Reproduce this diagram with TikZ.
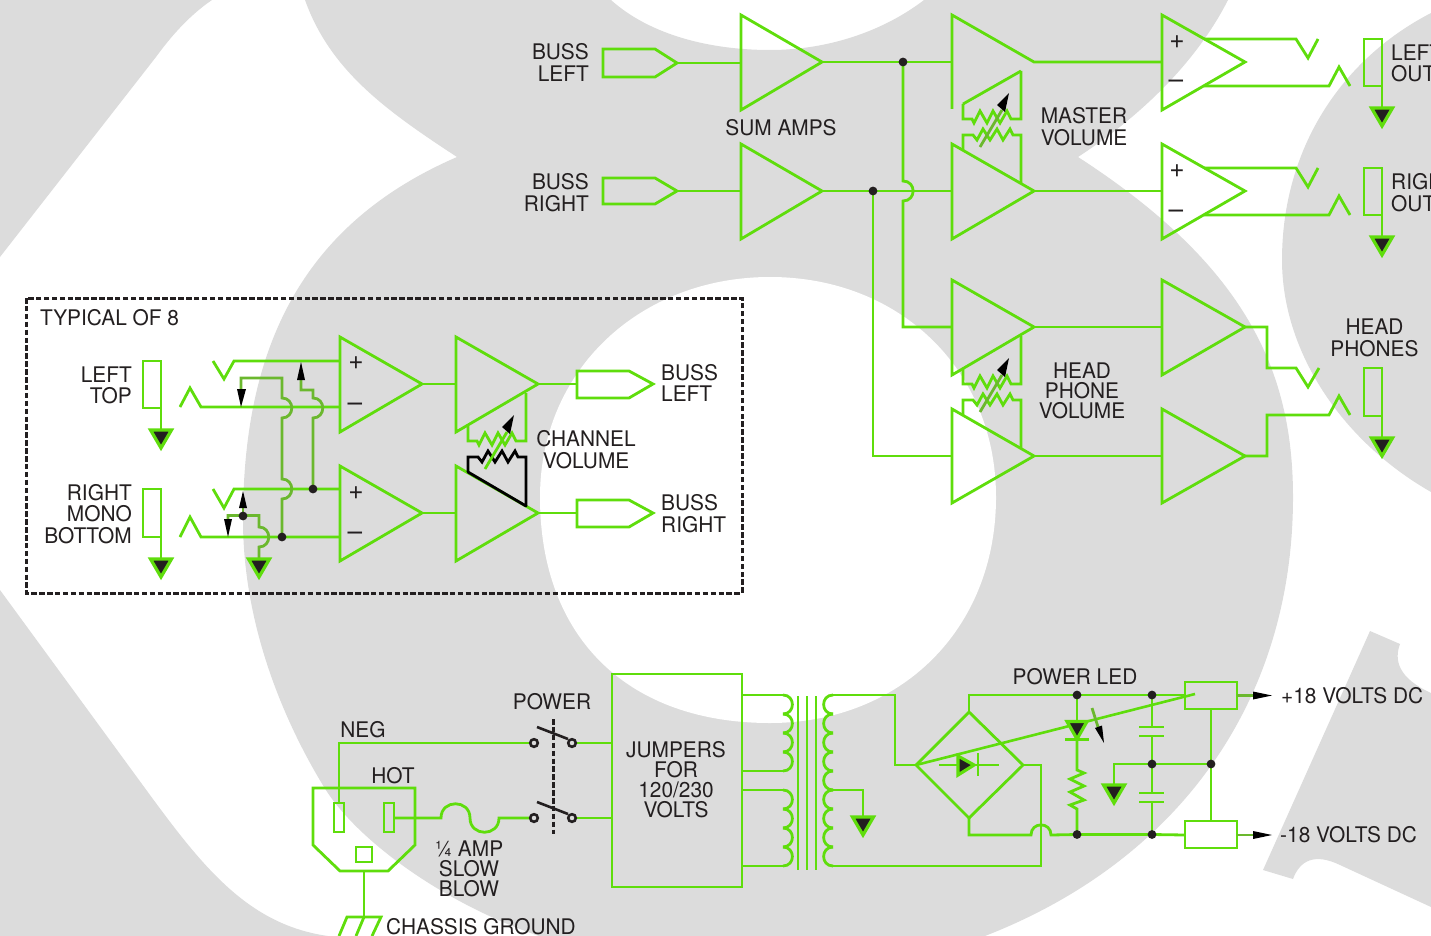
\documentclass[tikz,border=0pt]{standalone}
\usepackage{fontspec}
\setmainfont[FakeStretch=0.97]{TeX Gyre Heros}
\definecolor{bggray}{HTML}{DCDCDC}
\definecolor{gwire}{HTML}{5FDD0C}
\definecolor{owire}{HTML}{6BB82E}
\definecolor{ink}{HTML}{231F20}
\newcommand\lblfont{\fontsize{21.5}{21.7}\selectfont}
\newcommand\lbltight{\fontsize{21.5}{20}\selectfont}
\newcommand\signfont{\fontsize{27}{27}\selectfont}
\tikzset{
  wire/.style={draw=gwire,line width=2.8pt,line join=miter,fill=none},
  olive/.style={draw=owire,line width=2.8pt},
  blackwire/.style={draw=black,line width=2.8pt},
  lbl/.style={font=\lblfont,text=ink,align=center,inner sep=0pt},
  lbltop/.style={font=\lbltight,text=ink,align=center,inner sep=0pt},
  signmark/.style={font=\signfont,text=ink,inner sep=0pt},
  gndtri/.style={draw=gwire,fill=ink,line width=3.2pt,line join=miter},
  dotmark/.style={fill=ink,draw=none},
  headfill/.style={fill=black,draw=none},
  dashline/.style={draw=ink,line width=3pt,dash pattern=on 5.5pt off 2.4pt},
  bg/.style={fill=bggray,draw=none}
}
\newcommand\gnd[2]{\draw[gndtri] (#1-10.5,#2+1) -- (#1+10.5,#2+1) -- (#1,#2+19) -- cycle;}
\newcommand\jdot[1]{\fill[dotmark] (#1) circle[radius=4.4pt];}
\newcommand\zigupper{(963,104) -- (963,119) -- (972,119) -- (974,123) -- (980,111) -- (987,123) -- (993,111) -- (1000,123) -- (1007,111) -- (1011,119) -- (1021,119) -- (1021,71)}
\newcommand\ziglower{(963,150) -- (963,135) -- (973,135) -- (977,140) -- (983,129) -- (990,140) -- (997,129) -- (1003,140) -- (1010,129) -- (1013,135) -- (1021,135) -- (1021,184)}
\newcommand\potarrow[1]{\draw[#1] (980,147) -- (1002,110);\fill[headfill] (997,105) -- (1005,112) -- (1009,93) -- cycle;}
\begin{document}
\begin{tikzpicture}[x=1pt,y=-1pt]
\useasboundingbox (0,0) rectangle (1431,936);
\clip (0,0) rectangle (1431,936);
% ---------- background letter shapes
\fill[bg] (0,0) -- (212,0) .. controls (190,15) and (172,35) .. (156,57) -- (0,257) -- cycle;
\fill[bg] (0,590) -- (150,795) .. controls (205,870) and (250,925) .. (328,936) -- (0,936) -- cycle;
\fill[bg] (305,0) .. controls (330,70) and (385,110) .. (457,157)
  .. controls (300,225) and (243,350) .. (243,520)
  .. controls (243,620) and (280,715) .. (324,787)
  .. controls (355,838) and (440,902) .. (539,936)
  -- (985,936)
  .. controls (1180,860) and (1293,700) .. (1293,497)
  .. controls (1293,370) and (1245,265) .. (1078,157)
  .. controls (1150,110) and (1200,55) .. (1228,0)
  -- (924,0)
  .. controls (885,30) and (830,50) .. (770,50)
  .. controls (710,50) and (650,35) .. (611,0)
  -- cycle;
\fill[white] (770,277) .. controls (640,277) and (540,370) .. (540,497)
  .. controls (540,640) and (630,723) .. (770,723)
  .. controls (900,723) and (996,630) .. (996,497)
  .. controls (996,370) and (900,277) .. (770,277) -- cycle;
\fill[bg] (1431,13) .. controls (1340,60) and (1282,150) .. (1282,260) .. controls (1282,350) and (1340,440) .. (1431,492) -- cycle;
\fill[bg] (1370,631) -- (1400,644) .. controls (1394,660) and (1398,678) .. (1431,693) -- (1431,907) -- (1340,865) .. controls (1315,853) and (1300,860) .. (1293,879) -- (1263,870) -- cycle;
% ---------- junction coordinates
\coordinate (jsumL) at (903,62);
\coordinate (jsumR) at (873,191);
\coordinate (jcL) at (282,537);
\coordinate (jcM) at (313,489);
\coordinate (jcS) at (243,516);
\coordinate (jp1) at (1077,695);
\coordinate (jp2) at (1152,695);
\coordinate (jp3) at (1152,764);
\coordinate (jp4) at (1211,764);
\coordinate (jp5) at (1077,834.5);
\coordinate (jp6) at (1152,834.5);
% ---------- sum amps and master section
\draw[wire] (603,49) -- (655,49) -- (677,63) -- (655,77) -- (603,77) -- cycle;
\draw[wire] (603,178) -- (655,178) -- (677,191) -- (655,204) -- (603,204) -- cycle;
\draw[wire] (741,15) -- (741,110) -- (822,62) -- cycle;
\draw[wire] (741,144) -- (741,239) -- (822,191) -- cycle;
\draw[wire] (677,63) -- (741,63);
\draw[wire] (677,191) -- (741,191);
\draw[wire] (822,62) -- (jsumL) -- (952,62);
\draw[wire] (822,191) -- (jsumR) -- (952,191);
\draw[wire] (952,109) -- (952,15) -- (1034,62) -- (1162,62);
\draw[wire] (952,144) -- (952,239) -- (1034,191) -- cycle;
\draw[wire] (1034,191) -- (1162,191);
\draw[wire] \zigupper;
\draw[wire] (963,104) -- (1021,71);
\draw[wire] \ziglower;
\potarrow{olive}
\draw[wire] (jsumL) -- (903,181) .. controls (916.5,181) and (916.5,201) .. (903,201) -- (903,327) -- (952,327);
\draw[wire] (jsumR) -- (873,456) -- (952,456);
\jdot{jsumL}\jdot{jsumR}
% output amps
\draw[wire] (1162,15) -- (1162,110) -- (1245,62) -- cycle;
\draw[wire] (1162,144) -- (1162,239) -- (1245,191) -- cycle;
\foreach \d in {0,129}{
  \begin{scope}[shift={(0,\d)}]
  \draw[wire] (1204,39) -- (1296,39) -- (1308,58) -- (1318,39);
  \draw[wire] (1204,86) -- (1329,86) -- (1339,67) -- (1350,86);
  \draw[wire] (1382,86) -- (1364,86) -- (1364,39) -- (1382,39) -- (1382,107);
  \gnd{1382}{107}
  \end{scope}
}
% ---------- head phone section
\draw[wire] (952,280) -- (952,375) -- (1034,327) -- cycle;
\draw[wire] (952,409) -- (952,503) -- (1034,456) -- cycle;
\begin{scope}[shift={(0,265)}]
  \draw[wire] \zigupper;
  \draw[wire] \ziglower;
  \potarrow{olive}
\end{scope}
\draw[wire] (1034,327) -- (1162,327);
\draw[wire] (1034,456) -- (1162,456);
\draw[wire] (1162,280) -- (1162,375) -- (1245,327) -- cycle;
\draw[wire] (1162,409) -- (1162,503) -- (1245,456) -- cycle;
\draw[wire] (1245,327) -- (1267,327) -- (1267,368) -- (1296,368) -- (1308,387) -- (1319,368);
\draw[wire] (1245,456) -- (1267,456) -- (1267,415) -- (1329,415) -- (1339,396) -- (1350,415);
\draw[wire] (1382,416) -- (1364,416) -- (1364,368) -- (1382,368) -- (1382,437);
\gnd{1382}{437}
% ---------- typical channel
\draw[dashline] (26,298) rectangle (742,593);
\draw[wire] (340,337) -- (340,432) -- (422,384) -- cycle;
\draw[wire] (340,466) -- (340,561) -- (422,513) -- cycle;
\draw[wire] (213,361) -- (224,379) -- (234,361) -- (340,361);
\draw[wire] (180,407) -- (190,388) -- (201,407) -- (340,407);
\draw[wire] (213,489) -- (224,508) -- (234,489) -- (340,489);
\draw[wire] (180,537) -- (190,517) -- (201,537) -- (340,537);
\draw[wire] (161,408) -- (143,408) -- (143,361) -- (161,361) -- (161,429);
\draw[wire] (161,537) -- (143,537) -- (143,489) -- (161,489) -- (161,558);
\gnd{161}{429}
\gnd{161}{558}
% olive normalling wires
\draw[olive] (241,389) -- (241,378) -- (282,378) -- (282,398) .. controls (295,398) and (295,418) .. (282,418) -- (282,479) .. controls (295,479) and (295,499) .. (282,499) -- (jcL);
\fill[headfill] (237,389) -- (246,389) -- (241,407) -- cycle;
\draw[olive] (301,380) -- (301,390) -- (313,390) -- (313,398) .. controls (326,398) and (326,418) .. (313,418) -- (jcM);
\fill[headfill] (297,380) -- (305,380) -- (301,362) -- cycle;
\draw[olive] (228,519) -- (228,515.5) -- (259,515.5) -- (259,527) .. controls (272,527) and (272,547) .. (259,547) -- (259,558);
\fill[headfill] (224,519) -- (232,519) -- (228,537) -- cycle;
\draw[olive] (jcS) -- (243,508);
\fill[headfill] (239,508) -- (247,508) -- (243,491) -- cycle;
\gnd{259}{558}
\jdot{jcL}\jdot{jcM}\jdot{jcS}
% channel amps
\draw[wire] (422,384) -- (456,384);
\draw[wire] (422,513) -- (456,513);
\draw[wire] (456,337) -- (456,432) -- (538,384) -- cycle;
\draw[wire] (456,466) -- (456,561) -- (538,513) -- cycle;
\begin{scope}[shift={(-495,322)}]
  \draw[wire] \zigupper;
  \draw[blackwire,line join=miter] \ziglower;
  \draw[blackwire,line cap=round] (963,150) -- (1021,184);
  \potarrow{wire}
\end{scope}
\draw[wire] (538,384) -- (577,384);
\draw[wire] (538,513) -- (577,513);
\draw[wire] (577,371) -- (629,371) -- (653,384) -- (629,398) -- (577,398) -- cycle;
\draw[wire] (577,500) -- (629,500) -- (653,513) -- (629,527) -- (577,527) -- cycle;
% ---------- power section
\draw[wire] (612,674) rectangle (742,887);
\draw[wire] (530,743) -- (339,743) -- (339,803);
\draw[wire] (577,743) -- (612,743);
\draw[wire] (577,818) -- (612,818);
\draw[wire] (313,788) -- (415,788) -- (415,845) -- (388,871) -- (340,871) -- (313,845) -- cycle;
\draw[wire] (334,803) rectangle (344,832);
\draw[wire] (384,803) rectangle (394,832);
\draw[wire] (356,847) rectangle (372,862);
\draw[wire] (394,818) -- (441,818) .. controls (441,799) and (470,799) .. (470,818) .. controls (470,837) and (499,837) .. (499,818) -- (530,818);
\draw[wire] (364,871) -- (364,917);
\draw[wire] (339,936) -- (347,917) -- (381,917) -- (372,936);
\draw[wire] (364,917) -- (356,936);
\foreach \yy in {743,818}{
  \draw[draw=ink,line width=2.6pt] (534,\yy) circle[radius=3.8pt];
  \draw[draw=ink,line width=2.6pt] (572,\yy) circle[radius=3.8pt];
  \draw[draw=ink,line width=2.6pt] (537,\yy-16) -- (568,\yy-4);
}
\draw[dashline] (553,719) -- (553,834);
% transformer
\draw[wire] (742,695) -- (783,695);
\draw[wire] (742,771) -- (783,771);
\draw[wire] (742,790) -- (783,790);
\draw[wire] (742,866) -- (783,866);
\foreach \yy in {695,714,733,752,790,809,828,847}{
  \draw[wire] (783,\yy) .. controls (795.5,\yy) and (795.5,\yy+19) .. (783,\yy+19);
}
\foreach \xx in {798,807,816}{ \draw[wire] (\xx,696) -- (\xx,870); }
\foreach \yy in {695,714,733,752,771,790,809,828,847}{
  \draw[wire] (833,\yy) .. controls (820.5,\yy) and (820.5,\yy+19) .. (833,\yy+19);
}
\draw[wire] (833,695) -- (895,695) -- (895,765) -- (916,765);
\draw[wire] (833,866) -- (1041,866) -- (1041,765) -- (1023,765);
\draw[wire] (833,790) -- (863,790) -- (863,816);
\gnd{863}{816}
% bridge
\draw[wire] (916,765) -- (969,712) -- (1023,765) -- (969,818) -- cycle;
\draw[wire] (969,712) -- (969,695) -- (jp1) -- (jp2) -- (1185,695);
\draw[wire] (969,818) -- (969,835) -- (1031,835) .. controls (1031,821.5) and (1051,821.5) .. (1051,835) -- (jp5) -- (jp6) -- (1185,835);
\draw[wire] (939,765) -- (999,765);
\draw[gndtri] (958,756) -- (974,765) -- (958,775) -- cycle;
\draw[wire] (978,753) -- (978,776);
\draw[wire,line width=2.6pt] (916,765) -- (1195,694);
% LED string
\draw[wire] (jp1) -- (1077,721);
\draw[gndtri] (1067,721.5) -- (1087,721.5) -- (1077,739) -- cycle;
\draw[wire] (1065,739.5) -- (1089,739.5);
\draw[wire] (1077,739) -- (1077,770) -- (1084,773) -- (1070,779) -- (1084,786) -- (1070,792) -- (1084,800) -- (1070,805) -- (1077,809) -- (jp5);
\draw[olive] (1092,708) -- (1098,727);
\fill[headfill] (1095,728) -- (1102,725.5) -- (1104,743) -- cycle;
% caps
\draw[wire] (jp2) -- (1152,727);
\draw[wire] (1139,727) -- (1164,727);
\draw[wire] (1139,736) -- (1164,736);
\draw[wire] (1152,736) -- (jp3) -- (1152,793);
\draw[wire] (1139,793) -- (1164,793);
\draw[wire] (1139,802) -- (1164,802);
\draw[wire] (1152,802) -- (jp6);
\draw[wire] (1114,784) -- (1114,764) -- (jp3) -- (jp4);
\gnd{1114}{784}
\draw[wire] (1211,709) -- (jp4) -- (1211,821);
\draw[wire] (1185,682) rectangle (1237,709);
\draw[wire] (1185,821) rectangle (1237,848);
\draw[olive] (1237,695.5) -- (1254,695.5);
\fill[headfill] (1253,691.5) -- (1253,699.5) -- (1272,695.5) -- cycle;
\draw[olive] (1237,835) -- (1254,835);
\fill[headfill] (1253,831) -- (1253,839) -- (1272,835) -- cycle;
\jdot{jp1}\jdot{jp2}\jdot{jp3}\jdot{jp4}\jdot{jp5}\jdot{jp6}
% ---------- labels
\node[lbl,anchor=east,align=right] (tBL) at (589,62.5) {BUSS\\LEFT};
\node[lbl,anchor=east,align=right] (tBR) at (589,193) {BUSS\\RIGHT};
\node[lbl] (tSum) at (781,128) {SUM AMPS};
\node[lbl] (tMV) at (1084,127) {MASTER\\VOLUME};
\node[lbltop] (tHPV) at (1082,391) {HEAD\\PHONE\\VOLUME};
\node[lbl] (tHP) at (1374.5,338) {HEAD\\PHONES};
\node[lbl,anchor=west,align=left] (tLO) at (1391,63.5) {LEFT\\OUT};
\node[lbl,anchor=west,align=left] (tRO) at (1391,192.5) {RIGHT\\OUT};
\node[lbl,anchor=west] (tTyp) at (40,318) {TYPICAL OF 8};
\node[lbl,anchor=east,align=right] (tLT) at (132,385.5) {LEFT\\TOP};
\node[lbl,anchor=east,align=right] (tRMB) at (132,514) {RIGHT\\MONO\\BOTTOM};
\node[lbl,anchor=west,align=left] (tBL2) at (661,383) {BUSS\\LEFT};
\node[lbl,anchor=west,align=left] (tBR2) at (661,514) {BUSS\\RIGHT};
\node[lbl] (tCV) at (586,450) {CHANNEL\\VOLUME};
\node[lbl] (tPow) at (552,702) {POWER};
\node[lbl] (tNeg) at (363,730) {NEG};
\node[lbl] (tHot) at (393,776) {HOT};
\node[lbltop] (tFuse) at (469,869) {¼ AMP\\SLOW\\BLOW};
\node[lbl,anchor=west] (tCG) at (386,927) {CHASSIS GROUND};
\node[lbltop] (tJ) at (676,780) {JUMPERS\\FOR\\120/230\\VOLTS};
\node[lbl] (tLED) at (1075,677) {POWER LED};
\node[lbl,anchor=west] (tP18) at (1281,696) {+18 VOLTS DC};
\node[lbl,anchor=west] (tN18) at (1280,835) {-18 VOLTS DC};
\node[signmark] (pa) at (1177,42) {+};
\node[signmark] (ma) at (1176,84) {–};
\node[signmark] (pb) at (1177,171) {+};
\node[signmark] (mb) at (1176,214) {–};
\node[signmark] (pc) at (356,363) {+};
\node[signmark] (mc) at (355,407) {–};
\node[signmark] (pd) at (356,493) {+};
\node[signmark] (md) at (355,536) {–};
\end{tikzpicture}
\end{document}
